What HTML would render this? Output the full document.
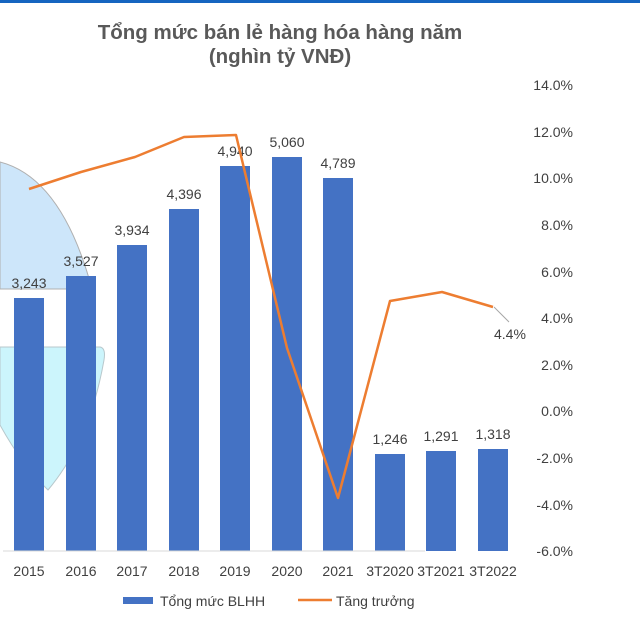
<!DOCTYPE html>
<html><head><meta charset="utf-8"><style>
body{margin:0;background:#fff;}
svg text{font-family:"Liberation Sans",Arial,sans-serif;}
</style></head><body>
<svg width="640" height="633" viewBox="0 0 640 633" xmlns="http://www.w3.org/2000/svg">
<rect x="0" y="0" width="640" height="3" fill="#1565c0"/>
<path d="M0,162 Q62,178 92,289 L0,289 Z" fill="#cde6fa" stroke="#b0b0b0" stroke-width="1"/>
<path d="M0,347 L100,347 Q106,348 104,360 Q90,440 48,490 Q22,465 0,425 Z" fill="#ccf5fc" stroke="#b8c8cc" stroke-width="1"/>
<text x="280" y="39" text-anchor="middle" font-size="20.5" font-weight="bold" fill="#595959">Tổng mức bán lẻ hàng hóa hàng năm</text>
<text x="280" y="63" text-anchor="middle" font-size="20.5" font-weight="bold" fill="#595959">(nghìn tỷ VNĐ)</text>
<g fill="#4472c4">
<rect x="14" y="298" width="30" height="253"/>
<rect x="66" y="276" width="30" height="275"/>
<rect x="117" y="245" width="30" height="306"/>
<rect x="169" y="209" width="30" height="342"/>
<rect x="220" y="166" width="30" height="385"/>
<rect x="272" y="157" width="30" height="394"/>
<rect x="323" y="178" width="30" height="373"/>
<rect x="375" y="454" width="30" height="97"/>
<rect x="426" y="451" width="30" height="100"/>
<rect x="478" y="449" width="30" height="102"/>
</g>
<line x1="3" y1="551" x2="425" y2="551" stroke="#d9d9d9" stroke-width="1"/>
<g font-size="14" fill="#404040" text-anchor="middle">
<text x="29" y="288">3,243</text>
<text x="81" y="266">3,527</text>
<text x="132" y="235">3,934</text>
<text x="184" y="199">4,396</text>
<text x="235" y="156">4,940</text>
<text x="287" y="147">5,060</text>
<text x="338" y="168">4,789</text>
<text x="390" y="444">1,246</text>
<text x="441" y="441">1,291</text>
<text x="493" y="439">1,318</text>
<text x="29" y="576">2015</text>
<text x="81" y="576">2016</text>
<text x="132" y="576">2017</text>
<text x="184" y="576">2018</text>
<text x="235" y="576">2019</text>
<text x="287" y="576">2020</text>
<text x="338" y="576">2021</text>
<text x="390" y="576">3T2020</text>
<text x="441" y="576">3T2021</text>
<text x="493" y="576">3T2022</text>
</g>
<polyline points="29,189 81,172 135,157 184,137 236,135 287,348 338,498 390,301 442,292 493,307" fill="none" stroke="#ed7d31" stroke-width="2.5" stroke-linejoin="round"/>
<line x1="494" y1="307" x2="509" y2="322" stroke="#a6a6a6" stroke-width="1"/>
<text x="494" y="339" font-size="14" fill="#404040">4.4%</text>
<g font-size="14" fill="#404040" text-anchor="end">
<text x="573" y="90">14.0%</text>
<text x="573" y="137">12.0%</text>
<text x="573" y="183">10.0%</text>
<text x="573" y="230">8.0%</text>
<text x="573" y="277">6.0%</text>
<text x="573" y="323">4.0%</text>
<text x="573" y="370">2.0%</text>
<text x="573" y="416">0.0%</text>
<text x="573" y="463">-2.0%</text>
<text x="573" y="510">-4.0%</text>
<text x="573" y="556">-6.0%</text>
</g>
<rect x="123" y="597" width="30" height="7" fill="#4472c4"/>
<text x="160" y="606" font-size="14" fill="#404040">Tổng mức BLHH</text>
<line x1="298" y1="600" x2="332" y2="600" stroke="#ed7d31" stroke-width="2.5"/>
<text x="336" y="606" font-size="14" fill="#404040">Tăng trưởng</text>
</svg>
</body></html>
